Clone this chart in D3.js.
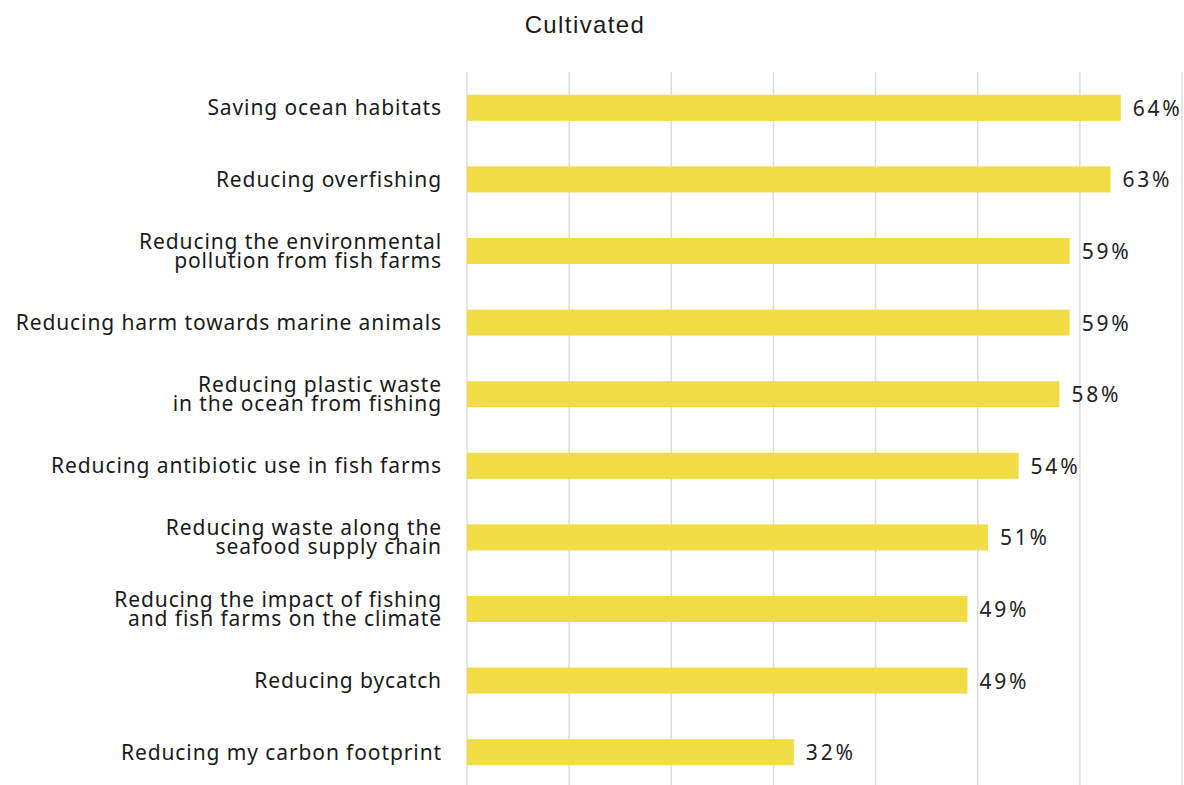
<!DOCTYPE html>
<html>
<head>
<meta charset="utf-8">
<script src="https://cdn.jsdelivr.net/npm/d3@7"></script>
<style>
  html, body { margin: 0; padding: 0; background: #fff; }
  svg { display: block; }
</style>
</head>
<body>
<svg id="chart" width="1184" height="785"></svg>
<script>
// Share of respondents citing each benefit of cultivated seafood
const categories = [
  ["Saving ocean habitats"],
  ["Reducing overfishing"],
  ["Reducing the environmental", "pollution from fish farms"],
  ["Reducing harm towards marine animals"],
  ["Reducing plastic waste", "in the ocean from fishing"],
  ["Reducing antibiotic use in fish farms"],
  ["Reducing waste along the", "seafood supply chain"],
  ["Reducing the impact of fishing", "and fish farms on the climate"],
  ["Reducing bycatch"],
  ["Reducing my carbon footprint"]
];
const values = [64, 63, 59, 59, 58, 54, 51, 49, 49, 32];
const gridTicks = [0, 10, 20, 30, 40, 50, 60, 70];
const title = "Cultivated";

const svg = d3.select("#chart");
const W = 1184, H = 785;

const x = d3.scaleLinear().domain([0, 70]).range([467, 1182]);
const y = d3.scaleBand()
  .domain(d3.range(categories.length))
  .range([72, 788])
  .padding(0);
const barH = 26;

// Title
svg.append("text")
  .attr("x", 585).attr("y", 33)
  .attr("text-anchor", "middle")
  .attr("font-family", "Liberation Sans, Arial, sans-serif")
  .attr("font-size", 24)
  .attr("letter-spacing", 1.4)
  .attr("fill", "#1a1a1a")
  .text(title);

// Vertical gridlines
svg.append("g")
  .selectAll("line")
  .data(gridTicks)
  .join("line")
  .attr("x1", d => x(d)).attr("x2", d => x(d))
  .attr("y1", 72).attr("y2", H)
  .attr("stroke", "#dcdcdc")
  .attr("stroke-width", 1.5);

const rows = svg.append("g")
  .selectAll("g")
  .data(values.map((v, i) => ({ v, i, label: categories[i] })))
  .join("g")
  .attr("transform", d => `translate(0,${y(d.i) + y.bandwidth() / 2})`);

// Bars
rows.append("rect")
  .attr("x", x(0))
  .attr("y", -barH / 2)
  .attr("width", d => x(d.v) - x(0))
  .attr("height", barH)
  .attr("fill", "#f2dc45");

// Value labels
rows.append("text")
  .attr("x", d => x(d.v) + 12)
  .attr("y", 0)
  .attr("dy", "0.38em")
  .attr("font-family", "Noto Sans, sans-serif")
  .attr("font-size", 21)
  .attr("letter-spacing", 2.8)
  .attr("fill", "#222")
  .text(d => d.v + "%");

// Category labels (one or two lines, centred on the bar)
const lineH = 19;
rows.append("text")
  .attr("text-anchor", "end")
  .attr("font-family", "Noto Sans, sans-serif")
  .attr("font-size", 21)
  .attr("letter-spacing", 0.9)
  .attr("fill", "#1a1a1a")
  .each(function(d) {
    const t = d3.select(this);
    const n = d.label.length;
    d.label.forEach((line, k) => {
      t.append("tspan")
        .attr("x", 442)
        .attr("y", (k - (n - 1) / 2) * lineH)
        .attr("dy", "0.36em")
        .text(line);
    });
  });
</script>
</body>
</html>
